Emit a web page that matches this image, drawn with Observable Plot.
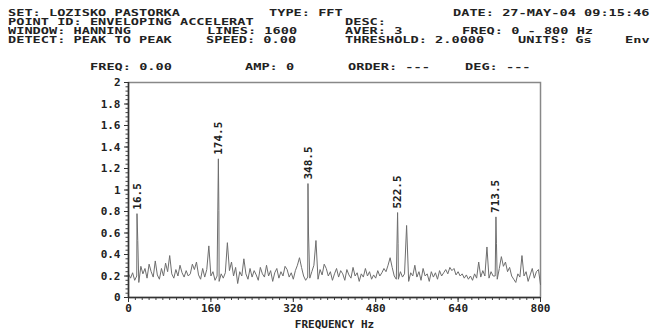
<!DOCTYPE html>
<html><head><meta charset="utf-8">
<script src="https://cdn.jsdelivr.net/npm/d3@7"></script>
<script src="https://cdn.jsdelivr.net/npm/@observablehq/plot@0.6"></script>
<style>
body{margin:0;background:#fff;}
#wrap{position:relative;width:650px;height:329px;overflow:hidden;background:#fff;}
.h{position:absolute;font:bold 8.5px "DejaVu Sans Mono",monospace;color:#222;transform:scaleX(1.6);transform-origin:0 50%;white-space:pre;line-height:10px;height:10px;}
#wrap svg{position:absolute;left:0;top:0;}
</style>
</head><body>
<div id="wrap"></div>
<script>
// ---- header texts ----
const headerTexts = [
  "SET: LOZISKO PASTORKA","TYPE: FFT","DATE: 27-MAY-04 09:15:46",
  "POINT ID: ENVELOPING ACCELERAT","DESC:",
  "WINDOW: HANNING","LINES: 1600","AVER: 3","FREQ: 0 - 800 Hz",
  "DETECT: PEAK TO PEAK","SPEED: 0.00","THRESHOLD: 2.0000","UNITS: Gs","Env",
  "FREQ: 0.00","AMP: 0","ORDER: ---","DEG: ---"
];
// layout (left x, centre y) for each header text
const headerLayout = [
  [8,12.5],[269,12.5],[453,12.5],
  [8,21.5],[345,21.5],
  [8,30.5],[207,30.5],[345,30.5],[462,30.5],
  [8,39.5],[206,39.5],[345,39.5],[518,39.5],[625,39.5],
  [90,67],[245,67],[348,67],[465,67]
];

// ---- spectrum data ----
// amplitude every 4 Hz bin, 0..800 Hz
const binAmps = [
  0.22,0.18,0.23,0.16,0.20,0.14,0.29,0.22,0.27,0.18,
  0.31,0.24,0.19,0.34,0.21,0.17,0.27,0.20,0.32,0.24,
  0.39,0.22,0.18,0.26,0.20,0.30,0.23,0.19,0.25,0.20,
  0.22,0.31,0.26,0.33,0.21,0.17,0.27,0.19,0.26,0.48,
  0.20,0.24,0.16,0.20,0.15,0.22,0.18,0.23,0.51,0.25,
  0.33,0.20,0.28,0.13,0.24,0.20,0.36,0.22,0.17,0.27,
  0.19,0.25,0.21,0.16,0.28,0.22,0.19,0.30,0.20,0.25,
  0.15,0.23,0.27,0.18,0.24,0.20,0.29,0.26,0.19,0.23,
  0.17,0.25,0.30,0.37,0.28,0.20,0.16,0.19,0.18,0.24,
  0.30,0.53,0.17,0.26,0.21,0.31,0.27,0.20,0.24,0.16,
  0.22,0.27,0.19,0.25,0.22,0.16,0.26,0.21,0.18,0.28,
  0.20,0.23,0.15,0.22,0.19,0.27,0.20,0.24,0.17,0.21,
  0.18,0.25,0.20,0.23,0.27,0.24,0.30,0.37,0.28,0.20,
  0.17,0.17,0.24,0.19,0.22,0.67,0.15,0.23,0.20,0.30,
  0.19,0.24,0.16,0.27,0.20,0.22,0.15,0.24,0.19,0.23,
  0.17,0.25,0.20,0.23,0.26,0.22,0.28,0.25,0.27,0.21,
  0.24,0.20,0.22,0.18,0.21,0.17,0.20,0.16,0.22,0.18,
  0.33,0.19,0.25,0.20,0.47,0.18,0.24,0.20,0.20,0.17,
  0.27,0.38,0.29,0.33,0.24,0.28,0.20,0.17,0.14,0.22,
  0.19,0.39,0.20,0.24,0.15,0.21,0.27,0.18,0.24,0.26,
  0.12
];
const binStep = 4;
// sharp peak lines (frequency, amplitude)
const spikeFreqs = [16.5, 18, 174.5, 175.5, 348.5, 349.5, 522.5, 523.5, 713.5, 714.5];
const spikeAmps  = [0.78, 0.53, 1.29, 0.81, 1.06, 0.60, 0.79, 0.50, 0.75, 0.50];
// labelled peaks
const peakLabels = ["16.5","174.5","348.5","522.5","713.5"];
const peakFreqs  = [16.5, 174.5, 348.5, 522.5, 713.5];
const peakAmps   = [0.78, 1.29, 1.06, 0.79, 0.75];
// ticks
const xTicks = [0,160,320,480,640,800];
const yTicks = [0,0.2,0.4,0.6,0.8,1,1.2,1.4,1.6,1.8,2];

const spectrum = binAmps.map((a,i)=>({f:i*binStep,a}))
  .concat(spikeFreqs.map((f,i)=>({f,a:spikeAmps[i]})))
  .sort((p,q)=>p.f-q.f);
const peaks = peakLabels.map((t,i)=>({t,f:peakFreqs[i],a:peakAmps[i]}));
const xMinor = d3.range(0,801,160/12);
const yMinor = d3.range(0,2.001,0.04);

const wrap = document.getElementById("wrap");
const chart = Plot.plot({
  width:650, height:329,
  marginLeft:128, marginRight:110, marginTop:82, marginBottom:32,
  x:{domain:[0,800]},
  y:{domain:[0,2]},
  style:{fontFamily:'"DejaVu Sans Mono", monospace', fontWeight:"bold", fontSize:"11px", color:"#222", background:"#fff"},
  marks:[
    Plot.frame({stroke:"#888", strokeWidth:1.5}),
    Plot.line(spectrum,{x:"f", y:"a", stroke:"#6e6e6e", strokeWidth:1}),
    Plot.axisX({ticks:xMinor, tickSize:3, text:null, stroke:"#444", label:null}),
    Plot.axisX({ticks:xTicks, tickSize:5, tickPadding:2, tickFormat:d=>String(d), stroke:"#333",
      style:{letterSpacing:"2.4px"}, label:"FREQUENCY Hz", labelAnchor:"center", labelArrow:"none", labelOffset:30}),
    Plot.axisY({ticks:yMinor, tickSize:2.5, text:null, stroke:"#444", label:null}),
    Plot.axisY({ticks:yTicks, tickSize:4, tickPadding:4, tickFormat:d=>String(+d.toFixed(1)), stroke:"#333",
      style:{letterSpacing:"2px"}, label:null}),
    Plot.ruleX([0],{stroke:"#333", strokeWidth:1.5}),
    Plot.ruleY([0],{stroke:"#333", strokeWidth:1.5}),
    Plot.text(peaks,{x:"f", y:"a", text:"t", rotate:-90, textAnchor:"start", dy:-4, fill:"#222",
      fontSize:11, fontWeight:"bold", style:{letterSpacing:"1.5px"}})
  ]
});
wrap.appendChild(chart);
headerTexts.forEach((t,i)=>{
  const d=document.createElement("div");
  d.className="h"; d.textContent=t;
  d.style.left=headerLayout[i][0]+"px";
  d.style.top=(headerLayout[i][1]-5)+"px";
  wrap.appendChild(d);
});
</script>
</body></html>
